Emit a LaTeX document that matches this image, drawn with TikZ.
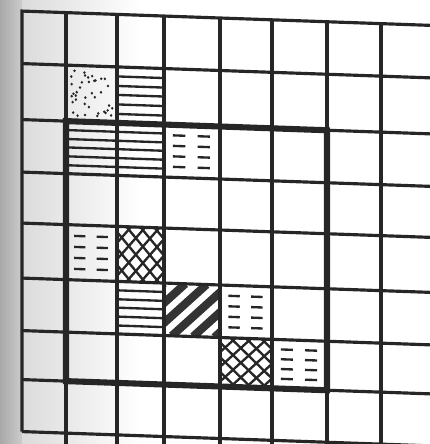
\documentclass[tikz,border=0pt]{standalone}
\usetikzlibrary{calc}

% column and row lines of the sheet, in pixels
\def\colx{{22,66,117,164,220,272,327,381,436,490}}
\def\rowy{{10.3,62.8,118.8,171.3,222.3,277.3,329.8,378.8,430.8,482}}

\begin{document}
\begin{tikzpicture}[
x=0.03cm,y=-0.03cm,
grid/.style={line width=2.7pt,black!85},
frame/.style={line width=5.2pt,black!85},
hatch/.style={line width=2pt,black!85},
cellat/.code 2 args={%
  \pgfmathsetmacro\xa{\colx[#1]}\pgfmathsetmacro\xb{\colx[#1+1]}%
  \pgfmathsetmacro\ya{\rowy[#2]}\pgfmathsetmacro\yb{\rowy[#2+1]}%
  \pgfmathsetmacro\cw{\xb-\xa}\pgfmathsetmacro\ch{\yb-\ya}%
  \tikzset{transform shape,shift={(\xa,\ya)},xscale=\cw,yscale=\ch}},
hlines/.pic={\foreach \y in {0.17,0.34,0.5,0.67,0.84} \draw[hatch] (0,\y) -- (1,\y);},
dashes/.pic={\foreach \y in {0.2,0.4,0.6,0.8} {\draw[hatch] (0.16,\y) -- (0.38,\y); \draw[hatch] (0.6,\y) -- (0.82,\y);}},
xhatch/.pic={\clip (0,0) -- (1,0) -- (1,1) -- (0,1) -- cycle; \foreach \t in {-1,-0.7,...,1} {\draw[hatch] (\t,0) -- (\t+1,1); \draw[hatch] (\t,1) -- (\t+1,0);}},
stripes/.pic={\clip (0,0) -- (1,0) -- (1,1) -- (0,1) -- cycle; \foreach \t in {-1,-0.62,...,1} \draw[line width=7pt,black!80] (\t,1) -- (\t+1,0);},
stipple/.pic={\pgfmathsetseed{7}\foreach \i in {1,...,38} \fill[black!85] (0.08+0.84*rnd,0.08+0.84*rnd) circle (0.026);}
]
\useasboundingbox (0,0) rectangle (430,444);
\clip (0,0) rectangle (430,444);

% page shadow at the left
\shade[left color=black!34,right color=black!20] (0,0) rectangle (22,444);
\shade[left color=black!14,right color=white] (22,0) rectangle (140,444);

\begin{scope}[yslant=-0.035]
\foreach \i in {0,...,9}
  \foreach \j in {0,...,9}
    \coordinate (g\i-\j) at ({\colx[\i]},{\rowy[\j]});

% patterned cells
\pic[cellat={1}{1}] at (0,0) {stipple};
\foreach \c/\r in {2/1,1/2,2/2,2/5} \pic[cellat={\c}{\r}] at (0,0) {hlines};
\foreach \c/\r in {3/2,1/4,4/5,5/6} \pic[cellat={\c}{\r}] at (0,0) {dashes};
\foreach \c/\r in {2/4,4/6} \pic[cellat={\c}{\r}] at (0,0) {xhatch};
\pic[cellat={3}{5}] at (0,0) {stripes};

% grid
\draw[grid] (g0-8) -- (g0-0) -- (g9-0);
\foreach \i in {1,...,8} \draw[grid] (g\i-0) -- (g\i-9);
\foreach \j in {1,...,8} \draw[grid] (g0-\j) -- (g9-\j);

% thick frame
\draw[frame] (g1-2) -- (g6-2) -- (g6-7) -- (g1-7) -- cycle;
\end{scope}
\end{tikzpicture}
\end{document}
